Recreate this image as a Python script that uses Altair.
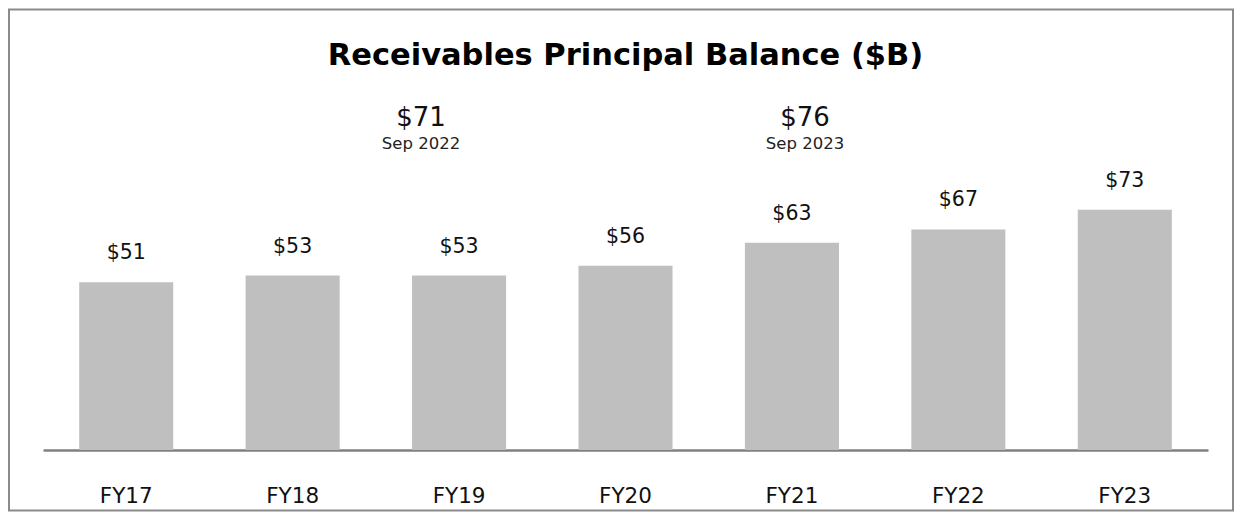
import altair as alt
import pandas as pd

# ---- data ----
categories = ["FY17", "FY18", "FY19", "FY20", "FY21", "FY22", "FY23"]
balances = [51, 53, 53, 56, 63, 67, 73]
ann_values = [71, 76]
ann_dates = ["Sep 2022", "Sep 2023"]
title_text = "Receivables Principal Balance ($B)"

df = pd.DataFrame({"fy": categories, "bal": balances})
df["label"] = ["$" + str(v) for v in balances]

FONT = "DejaVu Sans"
W, H = 1165, 418

x_enc = alt.X("fy:N", sort=categories,
              scale=alt.Scale(paddingInner=0.435, paddingOuter=0.2175),
              axis=alt.Axis(title=None, ticks=False, tickSize=0, labelAngle=0,
                            labelFontSize=21.5, labelFont=FONT, labelColor="#111111",
                            labelBaseline="alphabetic", labelPadding=52,
                            domainColor="#808080", domainWidth=2.5, grid=False))
y_enc = alt.Y("bal:Q", scale=alt.Scale(domain=[0, 127], nice=False), axis=None)

base = alt.Chart(df)
bars = base.mark_bar(color="#bfbfbf").encode(x=x_enc, y=y_enc)
labels = base.mark_text(baseline="alphabetic", dy=-23, fontSize=20.5, font=FONT,
                        color="#111111").encode(x=x_enc, y=y_enc, text="label:N")

one = pd.DataFrame({"t": [title_text]})
title = alt.Chart(one).mark_text(font=FONT, fontSize=30.5, fontWeight="bold",
                                 baseline="alphabetic", align="center",
                                 color="#000000").encode(
    x=alt.value(W / 2), y=alt.value(32.5), text="t:N")

ann_layers = []
ann_x = [378, 762]
for i in range(len(ann_values)):
    d = pd.DataFrame({"v": ["$" + str(ann_values[i])], "d": [ann_dates[i]]})
    ann_layers.append(alt.Chart(d).mark_text(font=FONT, fontSize=26, baseline="alphabetic",
                                             align="center", color="#111111").encode(
        x=alt.value(ann_x[i]), y=alt.value(93.5), text="v:N"))
    ann_layers.append(alt.Chart(d).mark_text(font=FONT, fontSize=16.5, baseline="alphabetic",
                                             align="center", color="#222222").encode(
        x=alt.value(ann_x[i]), y=alt.value(116.5), text="d:N"))

border = alt.Chart(pd.DataFrame({"a": [0]})).mark_rect(
    fillOpacity=0, stroke="#8a8a8a", strokeWidth=2).encode(
    x=alt.value(-34), x2=alt.value(1190), y=alt.value(-22.5), y2=alt.value(478.5))

chart = alt.layer(border, bars, labels, title, *ann_layers).properties(
    width=W, height=H, padding=0, background="white"
).configure_view(stroke="transparent", strokeWidth=0)

chart.save("out.html", embed_options={"renderer": "svg", "actions": False})
